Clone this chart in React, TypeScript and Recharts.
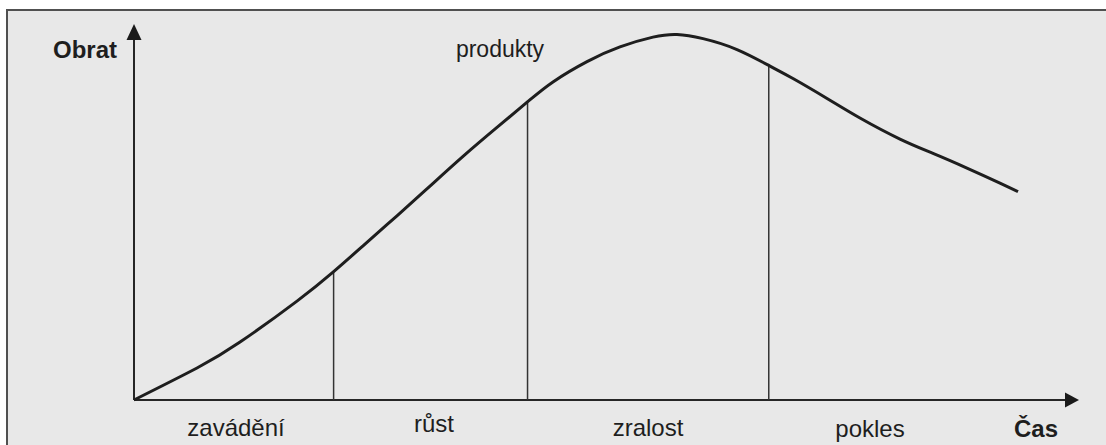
import React from "react";
import {
  LineChart,
  Line,
  XAxis,
  YAxis,
  ReferenceLine,
  ReferenceDot,
  Customized,
} from "recharts";

// Time (x) and turnover (y) of the product life-cycle curve, in arbitrary units 0..100
const curveTime = [
  0, 6.66, 11.21, 17.23, 21.04, 24.21, 27.8, 31.29, 34.78, 38.37, 41.65, 44.29, 47.89, 51.37,
  54.86, 57.4, 60.15, 63.74, 67.23, 69.66, 73.26, 76.74, 80.97, 84.46, 88.05, 91.54, 93.45,
];
const curveTurnover = [
  0, 8.5, 15.4, 26.3, 34.0, 41.0, 49.0, 56.9, 64.8, 72.5, 79.4, 84.6, 90.0, 93.9,
  96.5, 97.2, 96.1, 93.2, 88.8, 85.5, 80.2, 75.0, 69.4, 65.6, 61.7, 57.7, 55.4,
];

// Phase boundaries (time) and the curve height where each boundary meets it
const boundaryTime = [21.1, 41.6, 67.1];
const boundaryTurnover = [34.1, 79.4, 89.0];

// Phase labels
const phaseLabels = ["zavádění", "růst", "zralost", "pokles"];
const yAxisTitle = "Obrat";
const xAxisTitle = "Čas";
const curveTitle = "produkty";

const data = curveTime.map((t, i) => ({ t, v: curveTurnover[i] }));

const FONT = "'Liberation Sans', Arial, Helvetica, sans-serif";
const INK = "#262626";

// pixel placement of the labels
const phaseLabelX = [236, 434, 648, 870];
const phaseLabelY = [436, 432, 436, 437];

const Labels = () => (
  <g fontFamily={FONT} fill="#1e1e1e">
    <text x={53} y={58} fontSize={24} fontWeight="bold">
      {yAxisTitle}
    </text>
    <text x={500} y={57} fontSize={23} textAnchor="middle">
      {curveTitle}
    </text>
    {phaseLabels.map((l, i) => (
      <text key={l} x={phaseLabelX[i]} y={phaseLabelY[i]} fontSize={24} textAnchor="middle">
        {l}
      </text>
    ))}
    <text x={1036} y={437} fontSize={24} fontWeight="bold" textAnchor="middle">
      {xAxisTitle}
    </text>
  </g>
);

export default function App() {
  return (
    <div style={{ position: "absolute", left: 0, top: 0, width: 1106, height: 445, background: "#fff", overflow: "hidden" }}>
      <style>{`body{margin:0}`}</style>
      <div
        style={{
          position: "absolute",
          left: 6,
          top: 9,
          right: -4,
          bottom: -4,
          background: "#e8e8e8",
          borderTop: "2px solid #505050",
          borderLeft: "2px solid #505050",
        }}
      />
      <div style={{ position: "absolute", left: 0, top: 0 }}>
        <LineChart width={1106} height={445} data={data} margin={{ top: 24, right: 26, bottom: 45, left: 134 }}>
          <XAxis type="number" dataKey="t" domain={[0, 100]} hide />
          <YAxis type="number" domain={[0, 100]} hide />
          {/* axes */}
          <ReferenceLine
            segment={[{ x: 0, y: 0 }, { x: 0, y: 96 }]}
            stroke={INK}
            strokeWidth={2}
            ifOverflow="visible"
          />
          <ReferenceLine
            segment={[{ x: 0, y: 0 }, { x: 98.5, y: 0 }]}
            stroke={INK}
            strokeWidth={2}
            ifOverflow="visible"
          />
          <ReferenceDot
            x={0}
            y={100}
            r={0}
            ifOverflow="visible"
            shape={(p: any) => (
              <polygon points={`${p.cx},${p.cy} ${p.cx - 7.5},${p.cy + 16} ${p.cx + 7.5},${p.cy + 16}`} fill="#1a1a1a" />
            )}
          />
          <ReferenceDot
            x={100}
            y={0}
            r={0}
            ifOverflow="visible"
            shape={(p: any) => (
              <polygon points={`${p.cx - 1},${p.cy} ${p.cx - 15},${p.cy - 7.5} ${p.cx - 15},${p.cy + 7.5}`} fill="#1a1a1a" />
            )}
          />
          {/* phase boundaries */}
          {boundaryTime.map((bt, i) => (
            <ReferenceLine
              key={bt}
              segment={[{ x: bt, y: 0 }, { x: bt, y: boundaryTurnover[i] }]}
              stroke="#333"
              strokeWidth={1.5}
              ifOverflow="visible"
            />
          ))}
          <Line
            type="natural"
            dataKey="v"
            stroke="#1e1e1e"
            strokeWidth={3}
            dot={false}
            isAnimationActive={false}
          />
          <Customized component={Labels} />
        </LineChart>
      </div>
    </div>
  );
}
